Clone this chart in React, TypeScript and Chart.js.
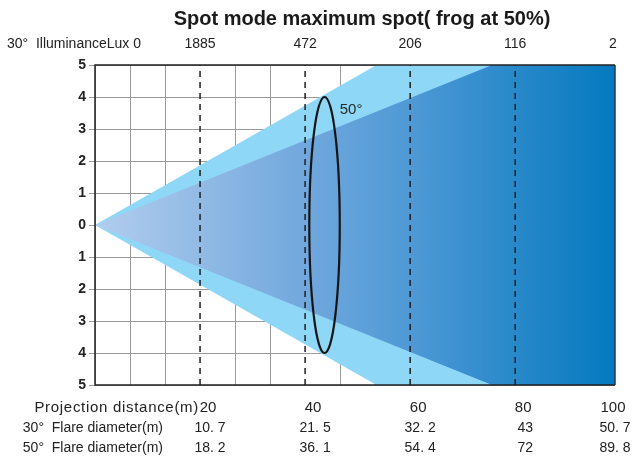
import React, { useEffect, useRef } from 'react';
import { Chart, registerables } from 'chart.js';

Chart.register(...registerables);

const TITLE = 'Spot mode maximum spot( frog at 50%)';
const TOP_LABEL = '30°  IlluminanceLux 0';
const DISTANCES = [20, 40, 60, 80, 100];
const ILLUMINANCE = ['1885', '472', '206', '116', '2'];
const ROW_LABELS = ['Projection distance(m)', '30°  Flare diameter(m)', '50°  Flare diameter(m)'];
const FLARE_30 = ['10. 7', '21. 5', '32. 2', '43', '50. 7'];
const FLARE_50 = ['18. 2', '36. 1', '54. 4', '72', '89. 8'];

const X_MIN = 0;
const X_MAX = 99;
const Y_MIN = -5;
const Y_MAX = 5;
const X_GRID = [0, 6.67, 13.33, 26.67, 33.33, 46.67, 53.33, 66.67, 73.33, 86.67, 93.33];
const DASH_X = [20, 40, 60, 80];

// 50° beam edges (light blue)
const BEAM50_UPPER = [{ x: 0, y: 0 }, { x: 53.6, y: 5 }, { x: 99, y: 5 }];
const BEAM50_LOWER = [{ x: 0, y: 0 }, { x: 53.6, y: -5 }, { x: 99, y: -5 }];
// 30° beam edges (gradient)
const BEAM30_UPPER = [{ x: 0, y: 0 }, { x: 75.6, y: 5 }, { x: 99, y: 5 }];
const BEAM30_LOWER = [{ x: 0, y: 0 }, { x: 75.6, y: -5 }, { x: 99, y: -5 }];

const ELLIPSE_CX = 43.7;
const ELLIPSE_RX = 2.9;
const ELLIPSE_RY = 4;
const ELLIPSE_LABEL = '50°';
const ELLIPSE_LABEL_POS = { x: 46.6, y: 3.6 };

const FONT = 'Arial, "Liberation Sans", sans-serif';

const overlayPlugin = {
  id: 'overlay',
  afterDraw(chart: any) {
    const { ctx, chartArea, scales } = chart;
    const xs = scales.x;
    const ys = scales.y;
    ctx.save();
    // frame
    ctx.strokeStyle = '#222';
    ctx.lineWidth = 1.5;
    ctx.beginPath();
    ctx.moveTo(chartArea.right, chartArea.top);
    ctx.lineTo(chartArea.left, chartArea.top);
    ctx.lineTo(chartArea.left, chartArea.bottom);
    ctx.lineTo(chartArea.right, chartArea.bottom);
    ctx.stroke();
    ctx.strokeStyle = '#1c3a55';
    ctx.beginPath();
    ctx.moveTo(chartArea.right, chartArea.top);
    ctx.lineTo(chartArea.right, chartArea.bottom);
    ctx.stroke();

    // ellipse
    const cx = xs.getPixelForValue(ELLIPSE_CX);
    const cy = ys.getPixelForValue(0);
    const rx = xs.getPixelForValue(ELLIPSE_CX + ELLIPSE_RX) - cx;
    const ry = cy - ys.getPixelForValue(ELLIPSE_RY);
    ctx.beginPath();
    ctx.ellipse(cx, cy, rx, ry, 0, 0, Math.PI * 2);
    ctx.strokeStyle = '#151515';
    ctx.lineWidth = 2.2;
    ctx.stroke();

    ctx.fillStyle = '#2a2a2a';
    ctx.font = `15px ${FONT}`;
    ctx.textAlign = 'left';
    ctx.textBaseline = 'middle';
    ctx.fillText(ELLIPSE_LABEL, xs.getPixelForValue(ELLIPSE_LABEL_POS.x), ys.getPixelForValue(ELLIPSE_LABEL_POS.y));

    // title
    ctx.fillStyle = '#1a1a1a';
    ctx.font = `bold 20px ${FONT}`;
    ctx.textAlign = 'center';
    ctx.fillText(TITLE, (chartArea.left + chartArea.right) / 2 + 7, 19);

    // top illuminance row
    ctx.font = `14px ${FONT}`;
    ctx.fillStyle = '#222';
    ctx.textAlign = 'left';
    ctx.fillText(TOP_LABEL, 7, 44);
    ctx.textAlign = 'center';
    DISTANCES.forEach((d, i) => {
      const px = Math.min(xs.getPixelForValue(d), chartArea.right - 2);
      ctx.fillText(ILLUMINANCE[i], px, 44);
    });

    // bottom table
    const rowsY = [408, 428, 448];
    ctx.textAlign = 'right';
    ctx.font = `15px ${FONT}`;
    (ctx as any).letterSpacing = '0.7px';
    ctx.fillText(ROW_LABELS[0], chartArea.left + 104, rowsY[0]);
    (ctx as any).letterSpacing = '0px';
    ctx.font = `14px ${FONT}`;
    ctx.fillText(ROW_LABELS[1], 163, rowsY[1]);
    ctx.fillText(ROW_LABELS[2], 163, rowsY[2]);
    ctx.textAlign = 'center';
    DISTANCES.forEach((d, i) => {
      const px = Math.min(xs.getPixelForValue(d) + 8, chartArea.right - 2);
      ctx.font = `15px ${FONT}`;
      ctx.fillText(String(d), px, rowsY[0]);
      ctx.font = `14px ${FONT}`;
      ctx.fillText(FLARE_30[i], px + 2, rowsY[1]);
      ctx.fillText(FLARE_50[i], px + 2, rowsY[2]);
    });
    ctx.restore();
  },
};

function gradientFill(c: any) {
  const chart = c.chart;
  const area = chart.chartArea;
  if (!area) return '#5b9bd8';
  const g = chart.ctx.createLinearGradient(area.left, 0, area.right, 0);
  g.addColorStop(0, '#b2cdee');
  g.addColorStop(0.4, '#72a8dd');
  g.addColorStop(0.62, '#4c98d5');
  g.addColorStop(1, '#0479bf');
  return g;
}

export default function App() {
  const ref = useRef<HTMLCanvasElement | null>(null);
  useEffect(() => {
    if (!ref.current) return;
    const datasets: any[] = [
      {
        data: BEAM50_UPPER, fill: '+1', backgroundColor: '#8ed7f6', borderWidth: 0,
        borderColor: 'transparent', pointRadius: 0, order: 3,
      },
      {
        data: BEAM50_LOWER, fill: false, borderWidth: 0, borderColor: 'transparent',
        pointRadius: 0, order: 3,
      },
      {
        data: BEAM30_UPPER, fill: '+1', backgroundColor: gradientFill, borderWidth: 0,
        borderColor: 'transparent', pointRadius: 0, order: 2,
      },
      {
        data: BEAM30_LOWER, fill: false, borderWidth: 0, borderColor: 'transparent',
        pointRadius: 0, order: 2,
      },
    ];
    DASH_X.forEach((x) => {
      datasets.push({
        data: [{ x, y: Y_MIN }, { x, y: Y_MAX }],
        fill: false, borderColor: '#1f1f1f', borderWidth: 1.5, borderDash: [6, 5],
        pointRadius: 0, order: 1,
      });
    });
    const chart = new Chart(ref.current, {
      type: 'line',
      data: { datasets },
      options: {
        animation: false,
        responsive: false,
        events: [],
        layout: { padding: { top: 65, right: 18, left: 0, bottom: 0 } },
        plugins: { legend: { display: false }, tooltip: { enabled: false }, title: { display: false } },
        elements: { line: { tension: 0 } },
        scales: {
          x: {
            type: 'linear', min: X_MIN, max: X_MAX, z: 1,
            afterBuildTicks: (s: any) => { s.ticks = X_GRID.map((v) => ({ value: v })); },
            afterFit: (s: any) => { s.height = 72; },
            ticks: { display: false },
            grid: { color: '#9a9a9a', lineWidth: 1, drawTicks: false },
            border: { display: false },
          },
          y: {
            type: 'linear', min: Y_MIN, max: Y_MAX, z: 1,
            afterFit: (s: any) => { s.width = 95; },
            ticks: {
              stepSize: 1,
              padding: 3,
              color: '#222',
              font: { family: FONT, size: 14, weight: 'bold' },
              callback: (v: any) => String(Math.abs(Number(v))),
            },
            grid: { color: '#9a9a9a', lineWidth: 1, tickLength: 6 },
            border: { display: false },
          },
        },
      } as any,
      plugins: [overlayPlugin],
    });
    return () => chart.destroy();
  }, []);
  return (
    <div style={{ position: 'fixed', left: 0, top: 0, width: 633, height: 457, background: '#fff' }}>
      <canvas ref={ref} width={633} height={457} style={{ display: 'block' }} />
    </div>
  );
}
